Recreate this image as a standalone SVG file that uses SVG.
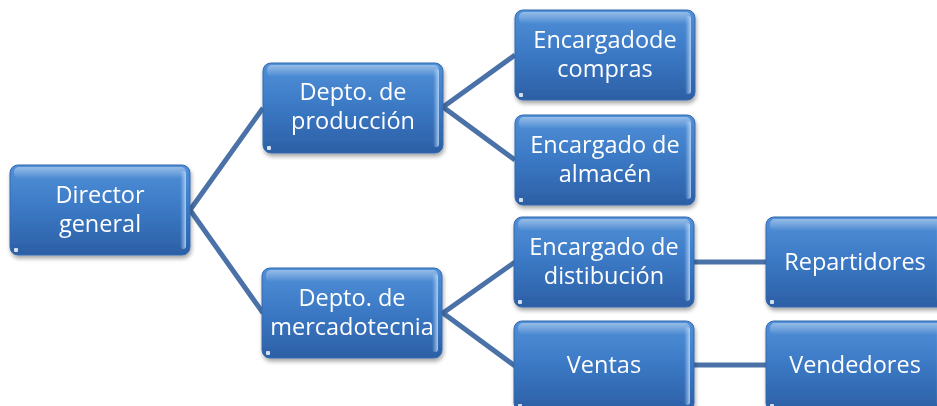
<svg xmlns="http://www.w3.org/2000/svg" width="937" height="406" viewBox="0 0 937 406">
<defs>
<linearGradient id="gFill" x1="0" y1="0" x2="0" y2="1">
<stop offset="0" stop-color="#5090d8"/>
<stop offset="0.5" stop-color="#3b78c4"/>
<stop offset="1" stop-color="#2c5fa5"/>
</linearGradient>
<linearGradient id="gTop" x1="0" y1="0" x2="0" y2="1">
<stop offset="0" stop-color="#ffffff" stop-opacity="0.4"/>
<stop offset="1" stop-color="#ffffff" stop-opacity="0"/>
</linearGradient>
<linearGradient id="gRight" x1="0" y1="0" x2="1" y2="0">
<stop offset="0" stop-color="#9cc4f0" stop-opacity="0"/>
<stop offset="1" stop-color="#b8d6f6" stop-opacity="0.9"/>
</linearGradient>
<filter id="sh" x="-10%" y="-10%" width="125%" height="130%">
<feGaussianBlur in="SourceAlpha" stdDeviation="2"/>
<feOffset dx="1" dy="3" result="b"/>
<feComponentTransfer><feFuncA type="linear" slope="0.35"/></feComponentTransfer>
<feMerge><feMergeNode/><feMergeNode in="SourceGraphic"/></feMerge>
</filter>
<g id="box">
<rect x="0" y="0" width="180" height="90" rx="8" fill="url(#gFill)" stroke="#3568ad" stroke-width="1"/>
<rect x="4" y="2" width="172" height="12" rx="5" fill="url(#gTop)"/>
<rect x="170" y="6" width="6" height="78" rx="3" fill="url(#gRight)"/>
<rect x="4" y="83" width="4" height="4" rx="1" fill="#ffffff" opacity="0.8"/>
</g>
</defs>
<style>
.c{fill:none;stroke:#4a72a8;stroke-width:5;stroke-linejoin:miter}
.t{font-family:"Open Sans","Noto Sans","Liberation Sans",sans-serif;font-size:23.5px;fill:#ffffff;text-anchor:middle}
</style>
<g id="connectors">
<polyline class="c" points="263,108 190,210 263,313"/>
<polyline class="c" points="515,55 443,107 515,160"/>
<polyline class="c" points="515,262 443,313 515,366"/>
<line class="c" x1="693" y1="262" x2="766" y2="262"/>
<line class="c" x1="693" y1="365" x2="766" y2="365"/>
</g>
<g id="n-director" filter="url(#sh)">
<use href="#box" x="10" y="165"/>
<text class="t" x="100" y="203">Director</text>
<text class="t" x="100" y="232">general</text>
</g>
<g id="n-produccion" filter="url(#sh)">
<use href="#box" x="263" y="63"/>
<text class="t" x="353" y="100">Depto. de</text>
<text class="t" x="353" y="129">producción</text>
</g>
<g id="n-mercadotecnia" filter="url(#sh)">
<use href="#box" x="262" y="268"/>
<text class="t" x="352" y="306">Depto. de</text>
<text class="t" x="352" y="335">mercadotecnia</text>
</g>
<g id="n-compras" filter="url(#sh)">
<use href="#box" x="515" y="10"/>
<text class="t" x="605" y="48">Encargadode</text>
<text class="t" x="605" y="77">compras</text>
</g>
<g id="n-almacen" filter="url(#sh)">
<use href="#box" x="515" y="115"/>
<text class="t" x="605" y="153">Encargado de</text>
<text class="t" x="605" y="182">almacén</text>
</g>
<g id="n-distribucion" filter="url(#sh)">
<use href="#box" x="514" y="217"/>
<text class="t" x="604" y="255">Encargado de</text>
<text class="t" x="604" y="284">distibución</text>
</g>
<g id="n-ventas" filter="url(#sh)">
<use href="#box" x="514" y="321"/>
<text class="t" x="604" y="373">Ventas</text>
</g>
<g id="n-repartidores" filter="url(#sh)">
<use href="#box" x="766" y="217"/>
<text class="t" x="855" y="270">Repartidores</text>
</g>
<g id="n-vendedores" filter="url(#sh)">
<use href="#box" x="766" y="321"/>
<text class="t" x="855" y="373">Vendedores</text>
</g>
</svg>
